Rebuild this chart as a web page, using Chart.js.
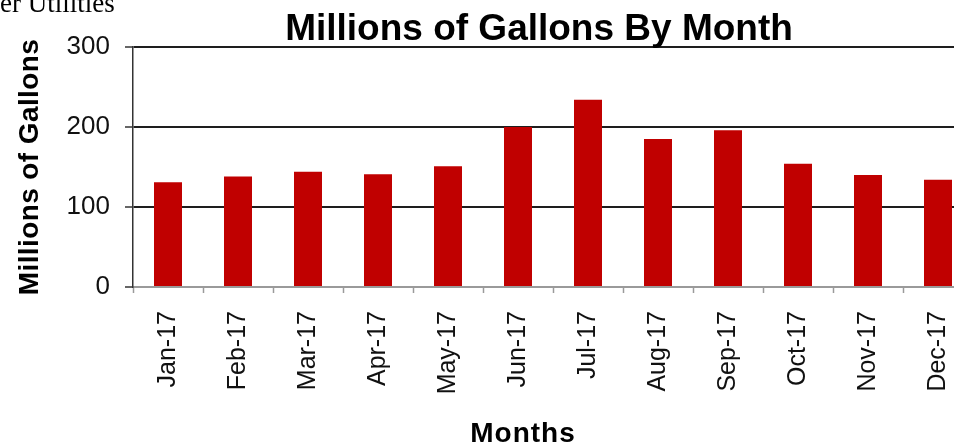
<!DOCTYPE html>
<html>
<head>
<meta charset="utf-8">
<script src="https://cdn.jsdelivr.net/npm/chart.js@4/dist/chart.umd.min.js"></script>
<style>
  html, body { margin: 0; padding: 0; background: #fff; overflow: hidden; width: 954px; height: 447px; }
  #wrap { position: relative; width: 1078px; height: 447px; }
  #note { position: absolute; left: 0; top: -10px; font-family: 'Liberation Serif', 'Times New Roman', serif; font-size: 27px; line-height: 27px; color: #000; white-space: nowrap; z-index: 2; }
  canvas { position: absolute; left: 0; top: 0; }
</style>
</head>
<body>
<div id="wrap">
  <div id="note">er Utilities</div>
  <canvas id="c" width="1078" height="447"></canvas>
</div>
<script>
const chartTitle = 'Millions of Gallons By Month';
const yAxisTitle = 'Millions of Gallons';
const xAxisTitle = 'Months';
const months = ['Jan-17','Feb-17','Mar-17','Apr-17','May-17','Jun-17','Jul-17','Aug-17','Sep-17','Oct-17','Nov-17','Dec-17'];
const gallons = [131, 138, 144, 141, 151, 200, 234, 185, 196, 154, 140, 134];
const yTicks = [0, 100, 200, 300];

const FONT = "'Liberation Sans', Arial, Helvetica, sans-serif";

// letter spacing / offset tweaks for axis titles
const titleExtras = { x: { ls: '1px', dx: -30, dy: 1 }, y: { ls: '0.4px', dx: 0, dy: 0 } };
const origDrawTitle = Chart.Scale.prototype.drawTitle;
Chart.Scale.prototype.drawTitle = function () {
  const ex = titleExtras[this.id];
  const ctx = this.ctx;
  ctx.save();
  if (ex) {
    if ('letterSpacing' in ctx) ctx.letterSpacing = ex.ls;
    ctx.translate(ex.dx, ex.dy);
  }
  origDrawTitle.call(this);
  ctx.restore();
};

new Chart(document.getElementById('c'), {
  type: 'bar',
  data: {
    labels: months,
    datasets: [{
      data: gallons,
      backgroundColor: '#C00000',
      borderWidth: 0,
      categoryPercentage: 1.0,
      barPercentage: 0.4
    }]
  },
  options: {
    responsive: false,
    animation: false,
    devicePixelRatio: 1,
    layout: { padding: 0 },
    plugins: {
      legend: { display: false },
      tooltip: { enabled: false },
      title: {
        display: true,
        text: chartTitle,
        color: '#000',
        font: { family: FONT, size: 37, weight: 'bold', lineHeight: 0.92 },
        padding: { top: 13, bottom: 0 }
      }
    },
    scales: {
      x: {
        type: 'category',
        offset: true,
        afterFit: s => { s.height = 160; },
        grid: { display: true, drawOnChartArea: false, drawTicks: true, tickLength: 6, tickColor: '#9a9a9a', tickWidth: 1.5, offset: true },
        border: { display: true, color: '#9a9a9a', width: 2 },
        ticks: { color: '#111', font: { family: FONT, size: 25 }, minRotation: 90, maxRotation: 90, padding: 18, autoSkip: false },
        title: { display: true, text: xAxisTitle, color: '#000', font: { family: FONT, size: 28, weight: 'bold', lineHeight: 1 }, padding: { top: 0, bottom: 0 } }
      },
      y: {
        type: 'linear',
        position: 'left',
        min: 0,
        max: 300,
        afterFit: s => { s.width = 133; },
        afterBuildTicks: s => { s.ticks = yTicks.map(v => ({ value: v })); },
        grid: {
          display: true,
          drawTicks: true,
          tickLength: 8,
          color: c => (c.tick && c.tick.value === 0) ? 'rgba(0,0,0,0)' : '#1e1e1e',
          lineWidth: 2,
          tickColor: '#333',
          tickWidth: 1.5
        },
        border: { display: true, color: '#333', width: 1.5 },
        ticks: { color: '#111', font: { family: FONT, size: 26 }, padding: 15, stepSize: 100 },
        title: { display: true, text: yAxisTitle, color: '#000', font: { family: FONT, size: 28, weight: 'bold', lineHeight: 1 }, padding: { top: 16, bottom: 0 } }
      },
      yr: {
        type: 'linear',
        position: 'right',
        display: true,
        afterFit: s => { s.width = 105; },
        grid: { display: false, drawTicks: false },
        border: { display: false },
        ticks: { display: false }
      }
    }
  }
});
</script>
</body>
</html>
